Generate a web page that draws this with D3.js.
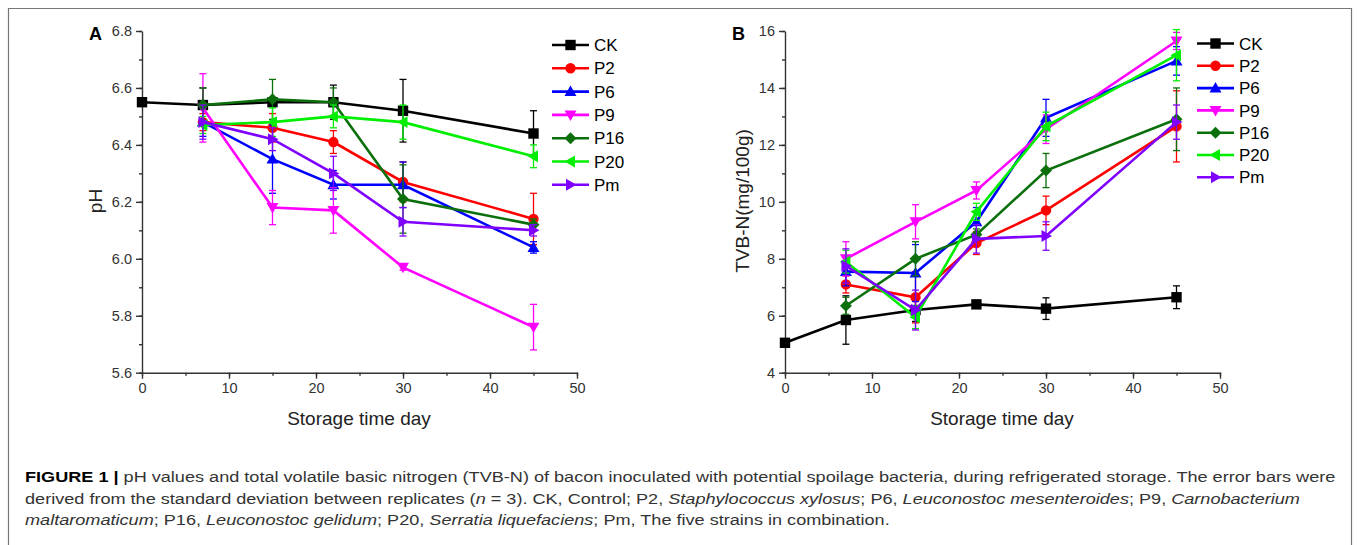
<!DOCTYPE html>
<html lang="en">
<head>
<meta charset="utf-8">
<title>Figure 1</title>
<script src="https://cdn.jsdelivr.net/npm/d3@7"></script>
<style>
  body { margin: 0; background: #fff; }
  svg { display: block; font-family: "Liberation Sans", Arial, sans-serif; }
</style>
</head>
<body>
<script>
// series names + days
var seriesNames = ["CK", "P2", "P6", "P9", "P16", "P20", "Pm"];
var daysCK = [0, 7, 15, 22, 30, 45];
var days = [7, 15, 22, 30, 45];

// panel A : pH
var phCK  = [6.55, 6.54, 6.55, 6.55, 6.52, 6.44];
var phP2  = [6.48, 6.46, 6.41, 6.27, 6.14];
var phP6  = [6.48, 6.35, 6.26, 6.26, 6.04];
var phP9  = [6.53, 6.18, 6.17, 5.97, 5.76];
var phP16 = [6.54, 6.56, 6.55, 6.21, 6.12];
var phP20 = [6.47, 6.48, 6.50, 6.48, 6.36];
var phPm  = [6.48, 6.42, 6.30, 6.13, 6.10];
// pH error (sd)
var phErrCK  = [0.01, 0.06, 0.01, 0.06, 0.11, 0.08];
var phErrP2  = [0.03, 0.05, 0.04, 0.07, 0.09];
var phErrP6  = [0.05, 0.12, 0.05, 0.08, 0.02];
var phErrP9  = [0.12, 0.06, 0.08, 0.01, 0.08];
var phErrP16 = [0.06, 0.07, 0.05, 0.12, 0.02];
var phErrP20 = [0.03, 0.05, 0.04, 0.06, 0.04];
var phErrPm  = [0.06, 0.04, 0.06, 0.05, 0.02];

// panel B : TVB-N
var tvCK  = [5.05, 5.85, 6.2, 6.4, 6.25, 6.65];
var tvP2  = [7.1, 6.65, 8.55, 9.7, 12.65];
var tvP6  = [7.55, 7.5, 9.3, 12.95, 14.95];
var tvP9  = [8.0, 9.3, 10.4, 12.55, 15.65];
var tvP16 = [6.35, 8.0, 8.85, 11.1, 12.9];
var tvP20 = [7.9, 5.95, 9.65, 12.65, 15.15];
var tvPm  = [7.75, 6.2, 8.7, 8.8, 12.8];
var tvErrCK  = [0.05, 0.85, 0.4, 0.1, 0.38, 0.4];
var tvErrP2  = [0.3, 0.9, 0.4, 0.5, 1.25];
var tvErrP6  = [0.5, 1.0, 0.5, 0.65, 0.5];
var tvErrP9  = [0.6, 0.6, 0.3, 0.5, 0.3];
var tvErrP16 = [0.3, 0.6, 0.2, 0.6, 1.1];
var tvErrP20 = [0.4, 0.4, 0.3, 0.5, 0.9];
var tvErrPm  = [0.6, 0.7, 0.5, 0.5, 0.6];

var colors = ["#000000", "#ff0000", "#0000ff", "#ff00ff", "#0b700b", "#00ee00", "#7f00ff"];
var symbols = ["square", "circle", "up", "down", "diamond", "left", "right"];

var captionLines = [
  [["b", "FIGURE 1 | "], ["", "pH values and total volatile basic nitrogen (TVB-N) of bacon inoculated with potential spoilage bacteria, during refrigerated storage. The error bars were"]],
  [["", "derived from the standard deviation between replicates ("], ["i", "n"], ["", " = 3). CK, Control; P2, "], ["i", "Staphylococcus xylosus"], ["", "; P6, "], ["i", "Leuconostoc mesenteroides"], ["", "; P9, "], ["i", "Carnobacterium"]],
  [["i", "maltaromaticum"], ["", "; P16, "], ["i", "Leuconostoc gelidum"], ["", "; P20, "], ["i", "Serratia liquefaciens"], ["", "; Pm, The five strains in combination."]]
];

var W = 1357, H = 545;
var svg = d3.select("body").append("svg").attr("width", W).attr("height", H);

// outer frame
svg.append("path")
  .attr("d", "M8.5," + (H + 2) + " V8.5 H1351.5 V" + (H + 2))
  .attr("fill", "none").attr("stroke", "#777").attr("stroke-width", 1.2);

function buildSeries(ck, p2, p6, p9, p16, p20, pm, eck, e2, e6, e9, e16, e20, epm) {
  var vals = [ck, p2, p6, p9, p16, p20, pm];
  var errs = [eck, e2, e6, e9, e16, e20, epm];
  return seriesNames.map(function(n, i) {
    var dd = i == 0 ? daysCK : days;
    return { name: n, color: colors[i], sym: symbols[i],
      pts: dd.map(function(d, j) { return { x: d, y: vals[i][j], e: errs[i][j] }; }) };
  });
}

function markerPath(sym, r) {
  var t = r * 1.15;
  switch (sym) {
    case "square": return "M" + (-r) + "," + (-r) + "h" + 2 * r + "v" + 2 * r + "h" + (-2 * r) + "z";
    case "circle": return "M" + (-r) + ",0a" + r + "," + r + " 0 1,0 " + 2 * r + ",0a" + r + "," + r + " 0 1,0 " + (-2 * r) + ",0z";
    case "up": return "M0," + (-t) + "L" + t + "," + (t * 0.75) + "L" + (-t) + "," + (t * 0.75) + "z";
    case "down": return "M0," + t + "L" + t + "," + (-t * 0.75) + "L" + (-t) + "," + (-t * 0.75) + "z";
    case "left": return "M" + (-t) + ",0L" + (t * 0.75) + "," + (-t) + "L" + (t * 0.75) + "," + t + "z";
    case "right": return "M" + t + ",0L" + (-t * 0.75) + "," + (-t) + "L" + (-t * 0.75) + "," + t + "z";
    case "diamond": return "M0," + (-t) + "L" + t + ",0L0," + t + "L" + (-t) + ",0z";
  }
}

function drawPanel(opt) {
  var g = svg.append("g");
  var x = d3.scaleLinear().domain([0, 50]).range([opt.left, opt.left + 435]);
  var y = d3.scaleLinear().domain(opt.yDomain).range([372.7, 31]);

  // axes with minor ticks
  var minorY = d3.range(opt.yDomain[0], opt.yDomain[1] + 1e-9, opt.yMinor);
  var minorX = d3.range(0, 50.001, 5);
  g.append("g").attr("transform", "translate(0,372.7)")
    .call(d3.axisBottom(x).tickValues(minorX).tickSize(3).tickFormat(""))
    .call(function(a) { a.select(".domain").remove(); });
  g.append("g").attr("transform", "translate(" + opt.left + ",0)")
    .call(d3.axisLeft(y).tickValues(minorY).tickSize(3).tickFormat(""))
    .call(function(a) { a.select(".domain").remove(); });

  g.append("g").attr("transform", "translate(0,372.7)")
    .call(d3.axisBottom(x).tickValues([0, 10, 20, 30, 40, 50]).tickSize(6).tickSizeOuter(0).tickPadding(4).tickFormat(d3.format("d")));
  g.append("g").attr("transform", "translate(" + opt.left + ",0)")
    .call(d3.axisLeft(y).tickValues(d3.range(opt.yDomain[0], opt.yDomain[1] + 1e-9, opt.yMajor)).tickSize(6).tickSizeOuter(0).tickPadding(4).tickFormat(opt.fmt));
  g.selectAll(".tick line, .domain").attr("stroke", "#333").attr("stroke-width", 1.4);
  g.selectAll(".tick text").attr("fill", "#333").style("font-size", "14.5px").style("font-family", "Liberation Sans, Arial, sans-serif");

  // axis titles
  g.append("text").attr("x", opt.left + 217).attr("y", 425).attr("text-anchor", "middle")
    .attr("fill", "#222").style("font-size", "19px").text("Storage time day");
  g.append("text").attr("transform", "translate(" + opt.yTitleX + ",201) rotate(-90)").attr("text-anchor", "middle")
    .attr("fill", "#222").style("font-size", "19px").text(opt.yTitle);
  g.append("text").attr("x", opt.left - 53).attr("y", 40).attr("font-weight", "bold")
    .style("font-size", "18px").attr("fill", "#000").text(opt.label);

  var line = d3.line().x(function(d) { return x(d.x); }).y(function(d) { return y(d.y); });

  var sg = g.selectAll("g.series").data(opt.series).enter().append("g").attr("class", "series");
  // error bars
  sg.each(function(s) {
    var eg = d3.select(this).selectAll("g.err").data(s.pts).enter().append("g")
      .attr("stroke", s.color).attr("stroke-width", 1.3).attr("fill", "none");
    eg.append("line").attr("x1", function(d) { return x(d.x); }).attr("x2", function(d) { return x(d.x); })
      .attr("y1", function(d) { return y(d.y - d.e); }).attr("y2", function(d) { return y(d.y + d.e); });
    eg.append("line").attr("x1", function(d) { return x(d.x) - 3.5; }).attr("x2", function(d) { return x(d.x) + 3.5; })
      .attr("y1", function(d) { return y(d.y + d.e); }).attr("y2", function(d) { return y(d.y + d.e); });
    eg.append("line").attr("x1", function(d) { return x(d.x) - 3.5; }).attr("x2", function(d) { return x(d.x) + 3.5; })
      .attr("y1", function(d) { return y(d.y - d.e); }).attr("y2", function(d) { return y(d.y - d.e); });
  });
  sg.append("path").attr("d", function(s) { return line(s.pts); })
    .attr("fill", "none").attr("stroke", function(s) { return s.color; }).attr("stroke-width", 2.6);
  sg.each(function(s) {
    d3.select(this).selectAll("path.mk").data(s.pts).enter().append("path").attr("class", "mk")
      .attr("d", markerPath(s.sym, 5.2))
      .attr("transform", function(d) { return "translate(" + x(d.x) + "," + y(d.y) + ")"; })
      .attr("fill", s.color);
  });

  // legend
  var lg = g.selectAll("g.leg").data(opt.series).enter().append("g")
    .attr("transform", function(s, i) { return "translate(" + opt.legX + "," + (opt.legY + i * opt.legStep) + ")"; });
  lg.append("line").attr("x1", 0).attr("x2", 37).attr("stroke", function(s) { return s.color; }).attr("stroke-width", 2.6);
  lg.append("path").attr("d", function(s) { return markerPath(s.sym, 5.2); }).attr("transform", "translate(18.5,0)")
    .attr("fill", function(s) { return s.color; });
  lg.append("text").attr("x", 42).attr("dy", "0.36em").style("font-size", "17px").attr("fill", "#000")
    .text(function(s) { return s.name; });
}

drawPanel({
  left: 142, yDomain: [5.6, 6.8], yMajor: 0.2, yMinor: 0.1, fmt: d3.format(".1f"),
  yTitle: "pH", yTitleX: 102, label: "A",
  series: buildSeries(phCK, phP2, phP6, phP9, phP16, phP20, phPm, phErrCK, phErrP2, phErrP6, phErrP9, phErrP16, phErrP20, phErrPm),
  legX: 552, legY: 45, legStep: 23.3
});
drawPanel({
  left: 785, yDomain: [4, 16], yMajor: 2, yMinor: 1, fmt: d3.format("d"),
  yTitle: "TVB-N(mg/100g)", yTitleX: 749, label: "B",
  series: buildSeries(tvCK, tvP2, tvP6, tvP9, tvP16, tvP20, tvPm, tvErrCK, tvErrP2, tvErrP6, tvErrP9, tvErrP16, tvErrP20, tvErrPm),
  legX: 1197, legY: 43.5, legStep: 22.3
});

// caption: condensed face, one horizontal squeeze for all lines (fit line 1)
var capTexts = captionLines.map(function(parts, i) {
  var t = svg.append("text").attr("x", 0).attr("y", 0)
    .attr("transform", "translate(25," + (482 + i * 21.6) + ")")
    .style("font-size", "15.5px").attr("fill", "#333");
  parts.forEach(function(p) {
    t.append("tspan").text(p[1])
      .attr("font-weight", p[0] == "b" ? "bold" : null)
      .attr("font-style", p[0] == "i" ? "italic" : null)
      .attr("fill", p[0] == "b" ? "#000" : null);
  });
  return t;
});
var sx = (1336 - 25) / capTexts[0].node().getComputedTextLength();
capTexts.forEach(function(t, i) {
  t.attr("transform", "translate(25," + (482 + i * 21.6) + ") scale(" + sx + ",1)");
});
</script>
</body>
</html>
